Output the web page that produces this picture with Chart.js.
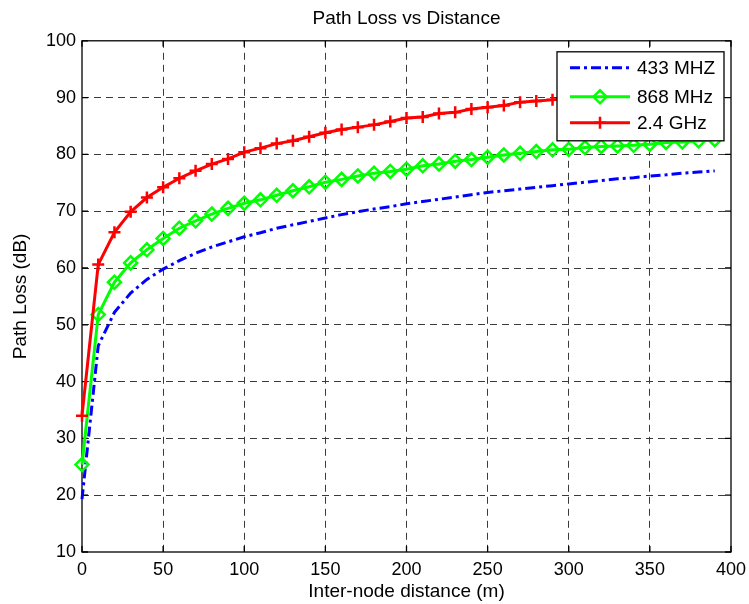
<!DOCTYPE html>
<html><head><meta charset="utf-8">
<script src="https://cdn.jsdelivr.net/npm/chart.js@4.4.1/dist/chart.umd.min.js"></script>
<style>html,body{margin:0;padding:0;background:#fff;overflow:hidden}#wrap{width:749px;height:604px;position:relative}</style>
</head><body><div id="wrap"><canvas id="c" width="749" height="604"></canvas></div>
<script>
const distance = [0,10,20,30,40,50,60,70,80,90,100,110,120,130,140,150,160,170,180,190,200,210,220,230,240,250,260,270,280,290,300,310,320,330,340,350,360,370,380,390];
const loss433 = [19.3,46.3,52.2,55.6,58.0,59.8,61.3,62.6,63.7,64.6,65.5,66.2,67.0,67.6,68.2,68.8,69.4,69.9,70.4,70.8,71.3,71.7,72.1,72.5,72.9,73.3,73.6,73.9,74.2,74.5,74.8,75.1,75.4,75.7,75.9,76.2,76.4,76.7,76.9,77.1];
const loss868 = [25.4,51.8,57.5,60.9,63.2,65.2,67.0,68.3,69.5,70.5,71.4,72.0,72.8,73.6,74.3,75.1,75.6,76.2,76.7,77.0,77.4,78.0,78.3,78.8,79.1,79.5,79.9,80.2,80.5,80.8,80.9,81.2,81.4,81.5,81.6,81.8,82.1,82.2,82.4,82.6];
const loss24 = [34.0,60.6,66.3,69.9,72.4,74.2,75.8,77.1,78.3,79.2,80.4,81.1,81.9,82.4,83.1,83.8,84.4,84.8,85.2,85.8,86.4,86.6,87.2,87.4,88.0,88.3,88.6,89.2,89.4,89.6,89.9,90.2,90.4,90.7,90.9,91.2,91.4,91.7,91.9,92.1];
const seriesLabels = ['433 MHZ', '868 MHz', '2.4 GHz'];
const xTicks = [0,50,100,150,200,250,300,350,400];
const yTicks = [10,20,30,40,50,60,70,80,90,100];
const chartTitle = 'Path Loss vs Distance';
const xTitle = 'Inter-node distance (m)';
const yTitle = 'Path Loss (dB)';

const FONT = "'Liberation Sans', Arial, Helvetica, sans-serif";
const pts = arr => distance.map((d, i) => ({x: d, y: arr[i]}));
const gridColor = (ticks) => (ctx) => {
  const v = ctx.tick ? ctx.tick.value : null;
  return (v === ticks[0] || v === ticks[ticks.length - 1]) ? 'rgba(0,0,0,0)' : '#3a3a3a';
};

const framePlugin = {
  id: 'frame',
  beforeDatasetsDraw(chart) {
    const {ctx, chartArea: a, scales} = chart;
    ctx.save();
    ctx.strokeStyle = '#000';
    ctx.lineWidth = 1.3;
    ctx.setLineDash([]);
    ctx.strokeRect(a.left, a.top, a.right - a.left, a.bottom - a.top);
    const tl = 6;
    ctx.beginPath();
    xTicks.forEach(v => {
      const px = scales.x.getPixelForValue(v);
      ctx.moveTo(px, a.bottom); ctx.lineTo(px, a.bottom - tl);
      ctx.moveTo(px, a.top); ctx.lineTo(px, a.top + tl);
    });
    yTicks.forEach(v => {
      const py = scales.y.getPixelForValue(v);
      ctx.moveTo(a.left, py); ctx.lineTo(a.left + tl, py);
      ctx.moveTo(a.right, py); ctx.lineTo(a.right - tl, py);
    });
    ctx.stroke();
    ctx.restore();
  }
};

const legendPlugin = {
  id: 'boxLegend',
  afterDraw(chart) {
    const {ctx, chartArea: a} = chart;
    const w = 167, h = 89;
    const bx = a.right - 7 - w, by = a.top + 11;
    ctx.save();
    ctx.fillStyle = '#fff';
    ctx.fillRect(bx, by, w, h);
    ctx.strokeStyle = '#000';
    ctx.lineWidth = 1.3;
    ctx.setLineDash([]);
    ctx.strokeRect(bx, by, w, h);
    const rows = [by + 16, by + 45, by + 71];
    chart.data.datasets.forEach((ds, i) => {
      const y = rows[i];
      const x1 = bx + 13, x2 = bx + 73, xm = (x1 + x2) / 2;
      ctx.strokeStyle = ds.borderColor;
      ctx.lineWidth = ds.borderWidth;
      ctx.setLineDash(ds.borderDash || []);
      ctx.beginPath(); ctx.moveTo(x1, y); ctx.lineTo(x2, y); ctx.stroke();
      ctx.setLineDash([]);
      if (ds.pointRadius > 0) {
        ctx.strokeStyle = ds.borderColor;
        ctx.fillStyle = 'rgba(0,0,0,0)';
        ctx.lineWidth = ds.pointBorderWidth;
        Chart.helpers.drawPoint(ctx, {pointStyle: ds.pointStyle, radius: ds.pointRadius, rotation: 0, borderWidth: ds.pointBorderWidth}, xm, y);
      }
      ctx.fillStyle = '#000';
      ctx.font = '19px ' + FONT;
      ctx.textBaseline = 'middle';
      ctx.textAlign = 'left';
      ctx.fillText(ds.label, bx + 80, y + 1);
    });
    ctx.restore();
  }
};

new Chart(document.getElementById('c'), {
  type: 'line',
  data: {
    datasets: [
      {label: seriesLabels[0], data: pts(loss433), borderColor: '#0000ff', borderWidth: 3, borderDash: [10, 4, 3, 4],
       pointRadius: 0, pointStyle: false, fill: false, tension: 0, order: 3, clip: false},
      {label: seriesLabels[1], data: pts(loss868), borderColor: '#00ff00', borderWidth: 3,
       pointStyle: 'rectRot', pointRadius: 6.5, pointBorderWidth: 2.5, pointBorderColor: '#00ff00', pointBackgroundColor: 'rgba(0,0,0,0)',
       fill: false, tension: 0, order: 2, clip: false},
      {label: seriesLabels[2], data: pts(loss24), borderColor: '#ff0000', borderWidth: 3,
       pointStyle: 'cross', pointRadius: 6, pointBorderWidth: 2.5, pointBorderColor: '#ff0000', pointBackgroundColor: 'rgba(0,0,0,0)',
       fill: false, tension: 0, order: 1, clip: false}
    ]
  },
  options: {
    responsive: false,
    animation: false,
    devicePixelRatio: 1,
    events: [],
    layout: {padding: {left: 0, right: 18, top: 0, bottom: 0}},
    plugins: {
      legend: {display: false},
      tooltip: {enabled: false},
      title: {display: true, text: chartTitle, fullSize: false, color: '#000',
              font: {family: FONT, size: 19, weight: 'normal'}, padding: {top: 7, bottom: 11}}
    },
    scales: {
      x: {
        type: 'linear', min: 0, max: 400,
        afterBuildTicks: s => { s.ticks = xTicks.map(v => ({value: v})); },
        afterFit: s => { s.height = 52; s.paddingLeft = 0; s.paddingRight = 0; },
        grid: {color: gridColor(xTicks), lineWidth: 1, drawTicks: false, tickLength: 0},
        border: {display: false, dash: [7, 5]},
        ticks: {color: '#000', font: {family: FONT, size: 18}, padding: 7, maxRotation: 0, autoSkip: false},
        title: {display: true, text: xTitle, color: '#000', font: {family: FONT, size: 19}, padding: {top: 0, bottom: 1}}
      },
      y: {
        type: 'linear', min: 10, max: 100,
        afterBuildTicks: s => { s.ticks = yTicks.map(v => ({value: v})); },
        afterFit: s => { s.width = 82; s.paddingTop = 0; s.paddingBottom = 0; },
        grid: {color: gridColor(yTicks), lineWidth: 1, drawTicks: false, tickLength: 0},
        border: {display: false, dash: [7, 5]},
        ticks: {color: '#000', font: {family: FONT, size: 18}, padding: 6, autoSkip: false},
        title: {display: true, text: yTitle, color: '#000', font: {family: FONT, size: 19}, padding: {top: 9, bottom: 0}}
      }
    }
  },
  plugins: [framePlugin, legendPlugin]
});
</script>
</body></html>
